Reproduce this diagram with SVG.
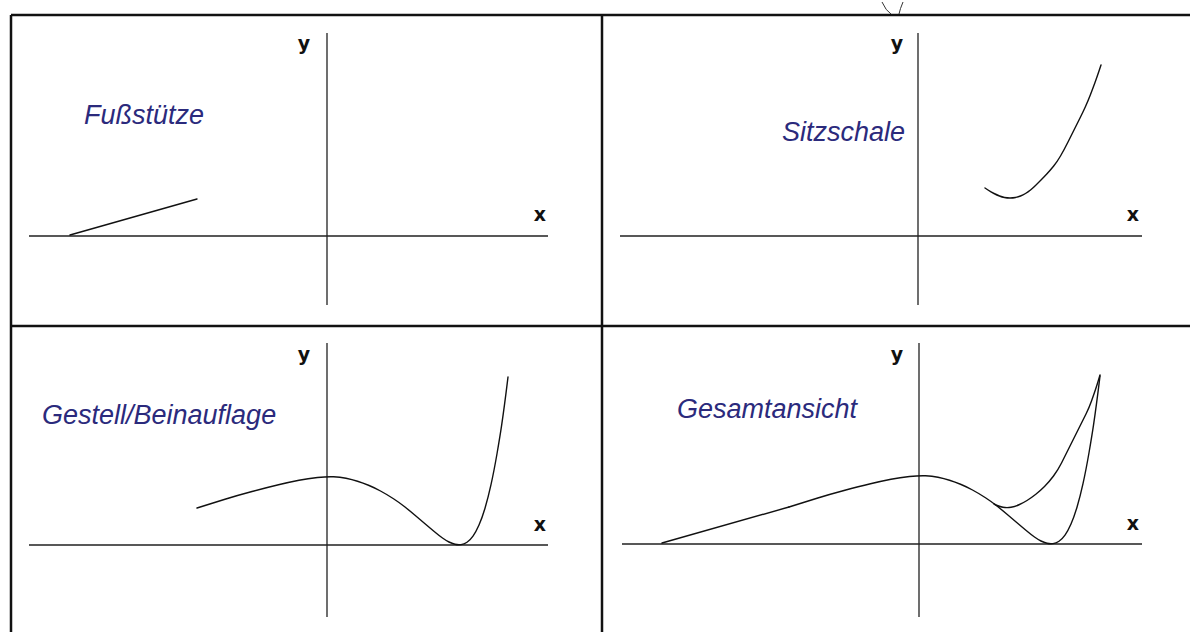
<svg xmlns="http://www.w3.org/2000/svg" xmlns:xlink="http://www.w3.org/1999/xlink" width="1190" height="632" viewBox="0 0 1190 632">
<style>
.frame{stroke:#111;stroke-width:2.5;fill:none}
.axis{stroke:#222;stroke-width:1.3;fill:none}
.curve{stroke:#111;stroke-width:1.4;fill:none;stroke-linejoin:round;stroke-linecap:round}
.lbl{font-family:"Liberation Sans",Arial,sans-serif;font-style:italic;font-size:27px;fill:#2b2a7c}
.ax{font-family:"DejaVu Sans",sans-serif;font-weight:bold;font-size:19px;fill:#111;text-anchor:middle}
</style>
<defs>
<path id="fuss" d="M-257,-1 L-130,-37"/>
<path id="gestell" d="M-130,-37 L-122,-39.5 Q-114,-42 -102,-45.75 Q-90,-49.5 -75,-53.5 Q-60,-57.5 -48.5,-60.25 Q-37,-63 -28,-64.75 Q-19,-66.5 -9.5,-67.5 Q0,-68.5 6.5,-68.25 Q13,-68 19,-66.75 Q25,-65.5 30.5,-63.75 Q36,-62 41.5,-59.75 Q47,-57.5 53.5,-54 Q60,-50.5 66.5,-46.25 Q73,-42 78,-38 Q83,-34 88,-29.75 Q93,-25.5 98,-21.25 Q103,-17 107.5,-13.25 Q112,-9.5 115.5,-7 Q119,-4.5 122,-3 Q125,-1.5 128,-0.75 Q131,0 134,-0.4 Q137,-0.8 140,-2.75 Q143,-4.7 146,-8.9 Q149,-13.1 152,-19.95 Q155,-26.8 158,-36.8 Q161,-46.8 164,-60.35 Q167,-73.9 170,-91.25 Q173,-108.6 174.5,-118.8 Q176,-129 177.5,-140.3 Q179,-151.6 180,-159.8 L181,-168"/>
</defs>
<rect x="0" y="0" width="1190" height="632" fill="#fff"/>
<g id="frame">
<path class="frame" d="M11,15 H1190 M11,15 V632 M602,15 V632 M11,326 H1190"/>
<path d="M882,2 Q886,11 891,14 M903,2 Q900,9 899,14" stroke="#333" stroke-width="1" fill="none"/>
</g>
<g id="panel-fussstuetze">
<path class="axis" d="M327,33 V305 M29,236 H548"/>
<text class="ax" x="304" y="50">y</text>
<text class="ax" x="540" y="221">x</text>
<text class="lbl" x="84" y="124">Fußstütze</text>
<use xlink:href="#fuss" class="curve" transform="translate(327,236)"/>
</g>
<g id="panel-sitzschale">
<path class="axis" d="M918,33 V305 M620,236 H1142"/>
<text class="ax" x="897" y="50">y</text>
<text class="ax" x="1133" y="221">x</text>
<text class="lbl" x="782" y="141">Sitzschale</text>
<path class="curve" transform="translate(918,236)" d="M67,-48 L70,-46 Q73,-44 76,-42.5 Q79,-41 81.5,-40 Q84,-39 86.5,-38.5 Q89,-38 92,-38 Q95,-38 97.5,-38.5 Q100,-39 102.5,-40 Q105,-41 107.5,-42.5 Q110,-44 112.5,-46 Q115,-48 117.5,-50.5 Q120,-53 123,-56 Q126,-59 129,-62.25 Q132,-65.5 135.5,-69.75 Q139,-74 142.5,-80 Q146,-86 150,-94 Q154,-102 157,-108 Q160,-114 162.5,-119 Q165,-124 167.5,-129.5 Q170,-135 172.5,-141.5 Q175,-148 177,-153.5 Q179,-159 181,-165 L183,-171"/>
</g>
<g id="panel-gestell">
<path class="axis" d="M327,343 V617 M29,545 H548"/>
<text class="ax" x="304" y="361">y</text>
<text class="ax" x="540" y="531">x</text>
<text class="lbl" x="42" y="424">Gestell/Beinauflage</text>
<use xlink:href="#gestell" class="curve" transform="translate(327,545)"/>
</g>
<g id="panel-gesamtansicht">
<path class="axis" d="M919,343 V617 M622,544 H1142"/>
<text class="ax" x="897" y="361">y</text>
<text class="ax" x="1133" y="530">x</text>
<text class="lbl" x="677" y="418">Gesamtansicht</text>
<g class="curve" transform="translate(919,544)">
<use xlink:href="#fuss"/>
<use xlink:href="#gestell"/>
<path d="M75,-40 L77.5,-38.75 Q80,-37.5 84,-36.75 Q88,-36 92,-36.75 Q96,-37.5 100,-39.25 Q104,-41 108,-43.5 Q112,-46 116.5,-49.5 Q121,-53 125.5,-57.5 Q130,-62 134.5,-68 Q139,-74 142.5,-81 Q146,-88 149,-94 Q152,-100 155,-106 Q158,-112 161,-118 Q164,-124 167,-130 Q170,-136 172.5,-143 Q175,-150 176.5,-154.5 Q178,-159 179.5,-164 L181,-169"/>
</g>
</g>
</svg>
